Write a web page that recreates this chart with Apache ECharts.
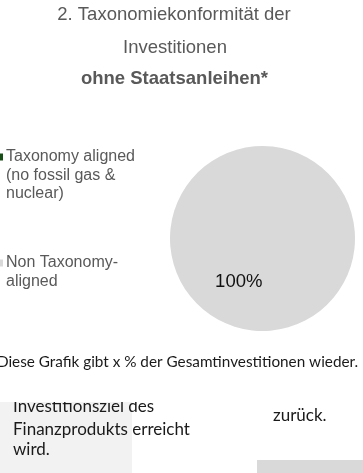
<!DOCTYPE html>
<html>
<head>
<meta charset="utf-8">
<script src="https://cdn.jsdelivr.net/npm/echarts@6/dist/echarts.min.js"></script>
<style>
  html, body { margin: 0; padding: 0; background: #ffffff; }
  #chart { width: 363px; height: 473px; }
</style>
</head>
<body>
<div id="chart"></div>
<script>
// Pie categories, values (percent of investments) and colours
const categories = ['Taxonomy aligned\n(no fossil gas &\nnuclear)', 'Non Taxonomy-\naligned'];
const values = [0, 100];
const colors = ['#174d17', '#d9d9d9'];

const titleLines = ['2. Taxonomiekonformität der', 'Investitionen'];
const titleBold = 'ohne Staatsanleihen*';
const footnote = 'Diese Grafik gibt x % der Gesamtinvestitionen wieder.';
const boxLines = ['Investitionsziel des', 'Finanzprodukts erreicht', 'wird.'];
const sideText = 'zurück.';

const chart = echarts.init(document.getElementById('chart'), null, { renderer: 'canvas' });

const titleFont = '"Liberation Sans", Arial, sans-serif';
const docFont = 'Lato, "Open Sans", sans-serif';

// Legend rows: icon aligned with the first text line
const legendTops = [157, 263];
const legendGraphics = [];
categories.forEach((name, i) => {
  legendGraphics.push({
    type: 'rect',
    shape: { x: -4, y: legendTops[i] - 3.5, width: 7, height: 7 },
    style: { fill: colors[i] }
  });
  legendGraphics.push({
    type: 'text',
    x: 6, y: legendTops[i] - 9.5,
    style: {
      text: name, fill: '#595959', font: '16px ' + titleFont,
      lineHeight: 18.5, verticalAlign: 'top', align: 'left'
    }
  });
});

// Lines of the shaded box, one element per line
const boxLineY = [406.5, 430, 450];
const boxGraphics = boxLines.map((line, i) => ({
  type: 'text', x: 13, y: boxLineY[i], z: 2,
  style: { text: line, fill: '#1a1a1a', font: '17px ' + docFont, align: 'left', verticalAlign: 'middle' }
}));

const option = {
  animation: false,
  backgroundColor: '#ffffff',
  series: [{
    type: 'pie',
    center: [262.5, 238.5],
    radius: [0, 92.5],
    startAngle: 61.2,
    clockwise: true,
    silent: true,
    data: categories.map((name, i) => ({
      name: name, value: values[i], itemStyle: { color: colors[i] }
    })),
    label: {
      show: true,
      position: 'inside',
      formatter: p => (p.value > 0 ? p.value + '%' : ''),
      color: '#111111',
      fontSize: 18.5,
      fontFamily: titleFont
    },
    labelLine: { show: false },
    emphasis: { disabled: true }
  }],
  graphic: [
    {
      type: 'text', x: 174, y: 15,
      style: { text: titleLines[0], fill: '#595959', font: '18.5px ' + titleFont, align: 'center', verticalAlign: 'middle' }
    },
    {
      type: 'text', x: 175, y: 48,
      style: { text: titleLines[1], fill: '#595959', font: '18.5px ' + titleFont, align: 'center', verticalAlign: 'middle' }
    },
    {
      type: 'text', x: 174.5, y: 79,
      style: { text: titleBold, fill: '#595959', font: 'bold 18.5px ' + titleFont, align: 'center', verticalAlign: 'middle' }
    },
    ...legendGraphics,
    {
      type: 'text', x: 177.5, y: 362,
      style: { text: footnote, fill: '#1a1a1a', font: '15.3px ' + docFont, align: 'center', verticalAlign: 'middle' }
    },
    // shaded text boxes at the bottom
    {
      type: 'rect', z: 1,
      shape: { x: 0, y: 402, width: 132, height: 80 },
      style: { fill: '#f2f2f2' }
    },
    {
      type: 'rect', z: 1,
      shape: { x: 257, y: 460, width: 110, height: 20 },
      style: { fill: '#d9d9d9' }
    },
    ...boxGraphics,
    {
      type: 'text', x: 273, y: 416, z: 2,
      style: { text: sideText, fill: '#1a1a1a', font: '17px ' + docFont, align: 'left', verticalAlign: 'middle' }
    },
    // page edge hiding the upper part of the first box line
    {
      type: 'rect', z: 3,
      shape: { x: 0, y: 385, width: 200, height: 17 },
      style: { fill: '#ffffff' }
    }
  ]
};

chart.setOption(option);
</script>
</body>
</html>
